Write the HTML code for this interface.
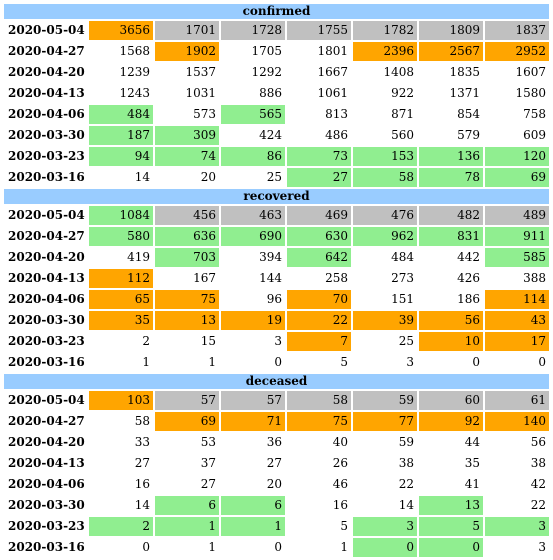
<!DOCTYPE html>
<html><head><meta charset="utf-8"><style>
body{margin:0;width:553px;height:560px;background:#fff;font-family:"DejaVu Serif",serif;font-size:12px;position:relative;overflow:hidden}
.c{position:absolute;height:19px;line-height:19px;box-sizing:border-box;padding:0 3px;color:#000}
.h{position:absolute;left:4px;width:545px;height:15px;line-height:15px;background:#99ccff;text-align:center;font-weight:bold}
.d{font-weight:bold;text-align:left;padding-left:4px}
.n{text-align:right}
</style></head><body>
<script>
const sections=["confirmed","recovered","deceased"];
const dates=["2020-05-04","2020-04-27","2020-04-20","2020-04-13","2020-04-06","2020-03-30","2020-03-23","2020-03-16"];
const confirmedVals=[[3656,1701,1728,1755,1782,1809,1837],[1568,1902,1705,1801,2396,2567,2952],[1239,1537,1292,1667,1408,1835,1607],[1243,1031,886,1061,922,1371,1580],[484,573,565,813,871,854,758],[187,309,424,486,560,579,609],[94,74,86,73,153,136,120],[14,20,25,27,58,78,69]];
const recoveredVals=[[1084,456,463,469,476,482,489],[580,636,690,630,962,831,911],[419,703,394,642,484,442,585],[112,167,144,258,273,426,388],[65,75,96,70,151,186,114],[35,13,19,22,39,56,43],[2,15,3,7,25,10,17],[1,1,0,5,3,0,0]];
const deceasedVals=[[103,57,57,58,59,60,61],[58,69,71,75,77,92,140],[33,53,36,40,59,44,56],[27,37,27,26,38,35,38],[16,27,20,46,22,41,42],[14,6,6,16,14,13,22],[2,1,1,5,3,5,3],[0,1,0,1,0,0,3]];
const confirmedColors=["OGGGGGG","WOWWOOO","WWWWWWW","WWWWWWW","EWEWWWW","EEWWWWW","EEEEEEE","WWWEEEE"];
const recoveredColors=["EGGGGGG","EEEEEEE","WEWEWWE","OWWWWWW","OOWOWWO","OOOOOOO","WWWOWOO","WWWWWWW"];
const deceasedColors=["OGGGGGG","WOOOOOO","WWWWWWW","WWWWWWW","WWWWWWW","WEEWWEW","EEEWEEE","WWWWEEW"];
const vals=[confirmedVals,recoveredVals,deceasedVals];
const cols=[confirmedColors,recoveredColors,deceasedColors];
const pal={O:"#ffa500",G:"#c0c0c0",E:"#90ee90",W:"transparent"};
function el(cls,x,y,w,txt,bg){const e=document.createElement('div');e.className=cls;e.style.left=x+'px';e.style.top=y+'px';if(w)e.style.width=w+'px';if(bg)e.style.background=bg;e.textContent=txt;document.body.appendChild(e);return e;}
sections.forEach((s,si)=>{
  const y0=4+si*185;
  const h=el('h',4,y0,0,s);
  
  
  dates.forEach((d,ri)=>{
    const y=y0+17+ri*21;
    const dl=el('c d',4,y,84,d);
    
    
    vals[si][ri].forEach((v,ci)=>{
      const c=el('c n',89+ci*66,y,64,String(v),pal[cols[si][ri][ci]]);
      
      
    });
  });
});
</script>
</body></html>
